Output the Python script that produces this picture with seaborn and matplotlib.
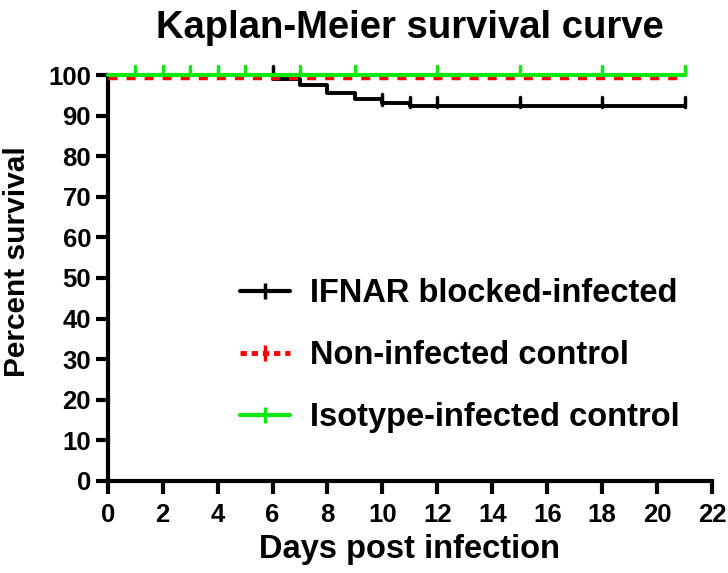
import pandas as pd
import numpy as np
import matplotlib.pyplot as plt
import matplotlib.transforms as mtransforms
import seaborn as sns
from matplotlib.lines import Line2D

# Survival step data (days, percent)
ifnar_days = [0, 6, 7, 8, 9, 10, 11, 21]
ifnar_surv = [100, 99, 97.5, 95.5, 94, 93, 92.3, 92.3]
ifnar_cens_days = [6, 10, 11, 12, 15, 18, 21]
ifnar_cens_surv = [100, 93, 92.3, 92.3, 92.3, 92.3, 92.3]

noninf_days = [0, 21]
noninf_surv = [100, 100]

iso_days = [0, 21]
iso_surv = [100, 100]
iso_cens_days = [1, 2, 3, 4, 5, 7, 9, 12, 15, 18, 21]
iso_cens_surv = [100] * 11

labels = ["IFNAR blocked-infected", "Non-infected control", "Isotype-infected control"]

GREEN = "#0ee80e"

sns.set_style("ticks")
plt.rcParams["font.family"] = ["Liberation Sans", "DejaVu Sans"]
plt.rcParams["font.weight"] = "bold"
for k in ["text.color", "axes.labelcolor", "xtick.color", "ytick.color", "axes.edgecolor"]:
    plt.rcParams[k] = "black"

fig = plt.figure(figsize=(7.28, 5.73), dpi=100)
ax = fig.add_axes([0.148, 0.1606, 0.83, 0.7085])

df_ifnar = pd.DataFrame({"day": ifnar_days, "surv": ifnar_surv})
df_non = pd.DataFrame({"day": noninf_days, "surv": noninf_surv})
df_iso = pd.DataFrame({"day": iso_days, "surv": iso_surv})

sns.lineplot(data=df_ifnar, x="day", y="surv", ax=ax, color="black", lw=2.8,
             drawstyle="steps-post", clip_on=False, zorder=2)
sns.lineplot(data=df_non, x="day", y="surv", ax=ax, color="red", lw=2.5,
             drawstyle="steps-post", clip_on=False, zorder=3)
red_line = ax.lines[-1]
red_line.set_linestyle((0, (2.6, 2.6)))
red_line.set_transform(ax.transData + mtransforms.ScaledTranslation(0, -0.025, fig.dpi_scale_trans))
sns.lineplot(data=df_iso, x="day", y="surv", ax=ax, color=GREEN, lw=3,
             drawstyle="steps-post", clip_on=False, zorder=4)

# censor marks
for d, s in zip(ifnar_cens_days, ifnar_cens_surv):
    ax.plot([d, d], [s - 0.3, s + 2.2], color="black", lw=2.5, clip_on=False, zorder=2)
for d, s in zip(iso_cens_days, iso_cens_surv):
    ax.plot([d, d], [s, s + 2.3], color=GREEN, lw=2.5, clip_on=False, zorder=4)

ax.set_xlim(0, 22)
ax.set_ylim(0, 100)
ax.set_xticks(np.arange(0, 23, 2))
ax.set_yticks(np.arange(0, 101, 10))
sns.despine(ax=ax)
for sp in ["left", "bottom"]:
    ax.spines[sp].set_linewidth(3)
ax.tick_params(axis="both", length=9, width=3, labelsize=18.5)
ax.tick_params(axis="x", pad=7)
ax.tick_params(axis="y", pad=3)
for lab in ax.get_xticklabels() + ax.get_yticklabels():
    lab.set_fontweight("bold")

ax.set_title("Kaplan-Meier survival curve", fontweight="bold", fontsize=27.5, pad=27)
ax.set_xlabel("Days post infection", fontweight="bold", fontsize=23.5, labelpad=5)
ax.set_ylabel("Percent survival", fontweight="bold", fontsize=21.5)
ax.yaxis.set_label_coords(-0.127, 0.54)

handles = [
    Line2D([], [], color="black", lw=3, marker="|", markersize=11, markeredgewidth=2.5),
    Line2D([], [], color="red", lw=3.5, linestyle=(0, (1.3, 1.0)), marker="|",
           markersize=11, markeredgewidth=2.5),
    Line2D([], [], color=GREEN, lw=3, marker="|", markersize=11, markeredgewidth=2.5),
]
ax.legend(handles, labels, loc="upper left", bbox_to_anchor=(0.2185, 0.50), frameon=False,
          prop={"weight": "bold", "size": 23.5}, handlelength=1.55,
          handletextpad=0.6, labelspacing=0.95, numpoints=1, borderpad=0, borderaxespad=0)

fig.savefig("out.png", dpi=100)
